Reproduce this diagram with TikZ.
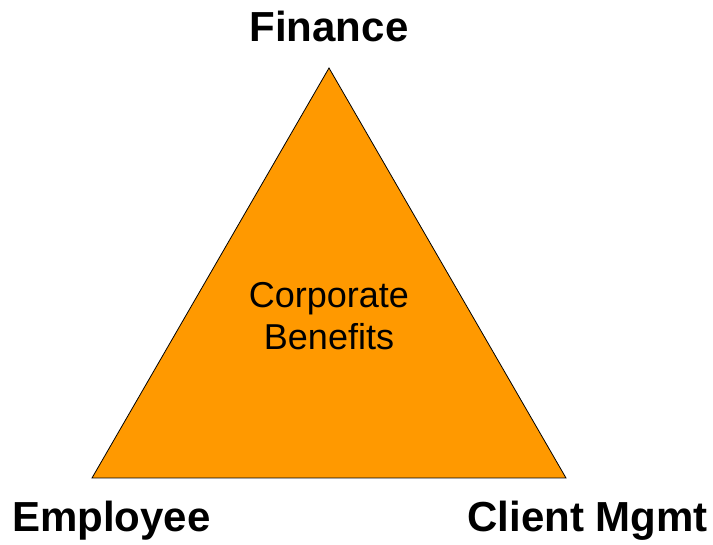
\documentclass[tikz,border=0pt]{standalone}
\usepackage{fontspec}
\setmainfont{Liberation Sans}
\definecolor{tri}{HTML}{FF9900}
\begin{document}
\begin{tikzpicture}[x=1pt,y=1pt,
  corner/.style={font=\fontsize{42}{48}\selectfont\bfseries, inner sep=0pt},
  inner/.style={font=\fontsize{36}{45}\selectfont, inner sep=0pt, align=center}]
\useasboundingbox (0,0) rectangle (713,545);
\coordinate (top) at (329,477);
\coordinate (bl) at (92,67);
\coordinate (br) at (566,67);
\filldraw[fill=tri, draw=black, line width=0.8pt, line join=miter] (top) -- (bl) -- (br) -- cycle;
\node[corner, anchor=base] (fin) at (329,503) {Finance};
\node[corner, anchor=base west] (emp) at (12,13) {Employee};
\node[corner, anchor=base east] (cli) at (708,13) {Client Mgmt};
\node[inner, anchor=base] (cb1) at (329,237) {Corporate};
\node[inner, anchor=base] (cb2) at (329,195) {Benefits};
\end{tikzpicture}
\end{document}
